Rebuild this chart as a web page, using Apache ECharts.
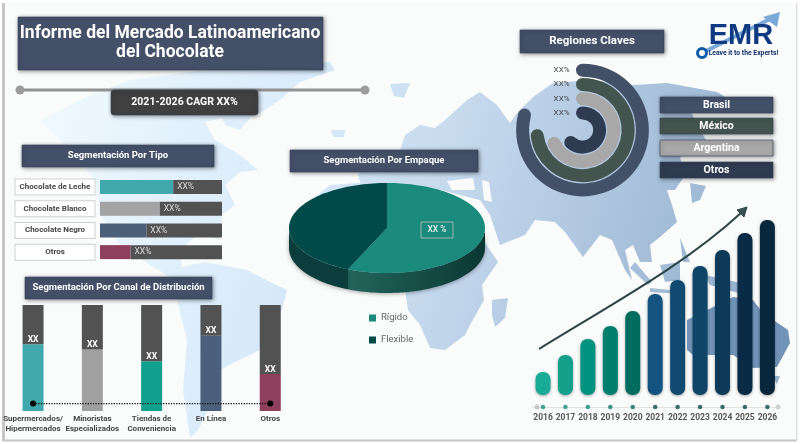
<!DOCTYPE html>
<html><head><meta charset="utf-8">
<style>html,body{margin:0;padding:0;background:#fff}#c{width:800px;height:444px}</style>
<script src="https://cdn.jsdelivr.net/npm/echarts@6/dist/echarts.min.js"></script>
</head><body><div id="c"></div>
<script>
const titleLines = ['Informe del Mercado Latinoamericano', 'del Chocolate'];
const cagrText = '2021-2026 CAGR XX%';
const tipoCats = ['Chocolate de Leche', 'Chocolate Blanco', 'Chocolate Negro', 'Otros'];
const tipoFill = [60, 49, 38, 25];
const tipoRest = [40, 51, 62, 75];
const canalCats = ['Supermercados/\nHipermercados', 'Minoristas\nEspecializados', 'Tiendas de\nConveniencia', 'En Línea', 'Otros'];
const canalFill = [63, 58, 47, 71, 35];
const canalRest = [37, 42, 53, 29, 65];
const canalDots = [7, 7, 7, 7, 7];
const pieNames = ['Rígido', 'Flexible'];
const pieValues = [56.5, 43.5];
const regionNames = ['Brasil', 'México', 'Argentina', 'Otros'];
const regionValues = [79, 73, 68, 62];
const regionLabels = ['XX%', 'XX%', 'XX%', 'XX%'];
const years = ['2016','2017','2018','2019','2020','2021','2022','2023','2024','2025','2026'];
const yearValues = [23, 40, 56, 69, 84, 101, 115, 129, 145, 162, 175];
const yearDots = [-12,-12,-12,-12,-12,-12,-12,-12,-12,-12,-12];

const tipoColors = ['#3fa9ad','#a3a3a3','#4d6079','#8e3f5c'];
const canalColors = ['#3fa9ad','#a0a0a0','#11a08e','#4c5f7c','#8e3f5c'];
const regionColors = ['#425068','#44544f','#a8a8a8','#2f3b51'];
const yearColors = ['#1aab97','#12a08b','#019380','#017f6e','#026d5e','#14527f','#114a70','#0f4568','#0e3a5a','#0a2b45','#08273c'];
const dotColors = ['#0d8d7a','#0d8d7a','#0d8d7a','#0b7a6a','#0b6a5c','#0a4a48','#0a4a48','#0a4a48','#0a4a48','#0a4a48','#0a4a48'];
const F = 'Roboto, sans-serif';

/* decorative background world map, not data */
const landShapes = [
 [[40,120],[90,95],[130,80],[190,72],[250,66],[330,62],[335,70],[300,82],[280,100],[262,112],[250,118],[240,130],[225,125],[222,118],[205,122],[215,140],[240,155],[258,170],[240,172],[225,185],[235,205],[222,215],[220,240],[200,232],[180,250],[182,270],[210,285],[175,280],[150,265],[120,245],[100,215],[95,180],[70,150]],
 [[170,270],[205,262],[247,270],[270,282],[287,290],[282,310],[260,350],[235,362],[220,370],[213,400],[198,430],[190,438],[183,390],[187,340],[177,300]],
 [[330,185],[400,180],[450,195],[480,235],[498,262],[482,285],[484,300],[470,325],[465,335],[445,350],[430,348],[420,325],[408,310],[405,290],[385,280],[340,280],[300,240],[305,205]],
 [[492,300],[508,298],[505,318],[495,327],[492,315]],
 [[358,175],[368,150],[400,150],[405,135],[420,125],[435,128],[445,120],[467,100],[480,92],[497,105],[510,123],[517,113],[533,97],[553,83],[590,80],[633,85],[667,83],[717,92],[730,100],[690,110],[700,130],[712,150],[700,150],[680,157],[685,175],[675,190],[667,190],[672,205],[677,222],[660,237],[650,245],[652,262],[640,262],[633,245],[625,250],[632,280],[625,270],[612,240],[600,235],[583,257],[565,232],[555,222],[535,220],[525,235],[500,245],[490,215],[480,200],[460,195],[440,190],[400,195],[365,200]],
 [[331,130],[345,130],[344,137],[333,137]],
 [[390,84],[410,83],[404,98],[394,96]],
 [[690,183],[706,186],[700,200],[692,203]],
 [[635,262],[652,282],[648,285],[630,268]],
 [[650,288],[680,291],[680,294],[650,292]],
 [[660,265],[680,262],[680,280],[665,282]],
 [[680,238],[690,262],[683,262]],
 [[705,275],[750,285],[745,295],[710,285]],
 [[772,376],[780,376],[777,384]]
];
const australiaShape = [[687,320],[707,310],[733,297],[753,300],[763,313],[788,330],[790,343],[777,367],[753,368],[733,355],[693,355],[687,350]];
const holeShapes = [
 [[447,181],[473,178],[475,190],[452,190]],
 [[482,180],[489,182],[492,202],[484,200]]
];
const landFill = {type:'linear',global:true,x:60,y:120,x2:720,y2:300,colorStops:[
 {offset:0,color:'#eef8fe'},{offset:.35,color:'#d8eafa'},{offset:.6,color:'#c3d7ec'},{offset:.85,color:'#a8c0da'},{offset:1,color:'#9ab4d2'}]};

function box(x,y,w,h,fill,text,font,color,extra){
  const out=[{type:'rect',z:1,shape:Object.assign({x,y,width:w,height:h},extra||{}),
    style:{fill,stroke:'#36445c',lineWidth:.6,shadowBlur:4,shadowColor:'rgba(0,0,0,.45)',shadowOffsetX:1,shadowOffsetY:1}}];
  if(text) out.push(txt(x+w/2,y+h/2,text,font,color||'#fff'));
  return out;
}
function txt(x,y,text,font,fill,align){
  return {type:'text',z:3,x,y,style:{text,font,fill,align:align||'center',verticalAlign:'middle'}};
}
const g=[];
g.push({type:'rect',z:-5,shape:{x:0,y:0,width:800,height:444},style:{fill:'#fff'}});
g.push({type:'rect',z:-5,shape:{x:4,y:3,width:792,height:437},style:{fill:'#fafcfc'}});
g.push({type:'rect',z:-4,shape:{x:2,y:3,width:3,height:438},style:{fill:'#c6c6c6'}});
g.push({type:'rect',z:-4,shape:{x:2,y:439.5,width:795,height:2},style:{fill:'#c6c6c6'}});
g.push({type:'rect',z:-4,shape:{x:796,y:3,width:1.5,height:438},style:{fill:'#e0e0e0'}});
landShapes.forEach(p=>g.push({type:'polygon',z:-3,shape:{points:p},style:{fill:landFill}}));
g.push({type:'polygon',z:-3,shape:{points:australiaShape},style:{fill:'#7293b8'}});
holeShapes.forEach(p=>g.push({type:'polygon',z:-2,shape:{points:p},style:{fill:'#fafcfc'}}));

g.push(...box(18,17,305,53,'#435068'));
g.push(txt(170,34,titleLines[0],'700 17.5px '+F,'#fff'));
g.push(txt(170,53,titleLines[1],'700 17.5px '+F,'#fff'));
g.push({type:'line',z:1,shape:{x1:20,y1:90,x2:365,y2:90},style:{stroke:'#929292',lineWidth:3}});
g.push({type:'circle',z:1,shape:{cx:20,cy:90,r:4.5},style:{fill:'#9c9c9c'}});
g.push({type:'circle',z:1,shape:{cx:365,cy:90,r:4.5},style:{fill:'#9c9c9c'}});
g.push(...box(111,90,147,25,'#404040',cagrText,'700 10.5px '+F,'#fff',{r:3}));
g.push(...box(22,145,192,22,'#435068','Segmentación Por Tipo','700 9.5px '+F));
g.push(...box(290,150,188,22,'#435068','Segmentación Por Empaque','700 9.5px '+F));
g.push(...box(25,277,187,22,'#435068','Segmentación Por Canal de Distribución','700 9.5px '+F));
g.push(...box(520,30,144,23,'#435068','Regiones Claves','700 11.5px '+F));
const legendY=[97,118,140,162];
regionNames.forEach((n,i)=>g.push(...box(660,legendY[i],113,16,regionColors[i],n,'700 10.5px '+F)));

/* growth arrow */
g.push({type:'bezierCurve',z:10,shape:{x1:539,y1:349,cpx1:610,cpy1:305,cpx2:685,cpy2:265,x2:742,y2:212},style:{stroke:'#2c4446',lineWidth:2,fill:'none'}});
g.push({type:'polygon',z:10,shape:{points:[[747,207],[737,210],[744,217]]},style:{fill:'#3a5052',stroke:'#2c4446',lineWidth:1}});
g.push({type:'circle',z:1,shape:{cx:537,cy:407,r:2.5},style:{fill:'#c8c8c8'}});
g.push({type:'circle',z:1,shape:{cx:778,cy:407,r:2.5},style:{fill:'#d0d0d0'}});

/* logo */
g.push({type:'line',z:1,shape:{x1:702,y1:53,x2:772,y2:18},style:{stroke:'#7ba8d6',lineWidth:4}});
g.push({type:'polygon',z:1,shape:{points:[[780,12],[763,17],[777,27]]},style:{fill:'#7ba8d6'}});
g.push(txt(741,36,'EMR','700 29px "Liberation Sans", sans-serif','#0f3a82'));
g.push({type:'circle',z:3,shape:{cx:702,cy:53,r:4.5},style:{fill:'#fff',stroke:'#0c5aa8',lineWidth:3}});
g.push(txt(743.5,53,'Leave it to the Experts!','700 6.8px '+F,'#0f2f66'));

function ellipsePts(t1,t2,cx,cy,rx,ry){
  const pts=[];const n=Math.max(2,Math.ceil((t2-t1)/2));
  for(let i=0;i<=n;i++){const t=(t1+(t2-t1)*i/n)*Math.PI/180;pts.push([cx+rx*Math.sin(t),cy-ry*Math.cos(t)]);}
  return pts;
}
const total=pieValues.reduce((a,b)=>a+b,0);
function pieRender(i,topColor,sideFill){
  return function(){
    const cx=387,cy=228,rx=98,ry=45,d=20;
    const before=pieValues.slice(0,i).reduce((a,b)=>a+b,0);
    const t1=before/total*360,t2=(before+pieValues[i])/total*360;
    const kids=[];
    const s1=Math.max(t1,90),s2=Math.min(t2,270);
    if(s2>s1){
      const rim=ellipsePts(s1,s2,cx,cy,rx,ry);
      const low=rim.map(p=>[p[0],p[1]+d]).reverse();
      kids.push({type:'polygon',shape:{points:rim.concat(low)},style:{fill:sideFill,shadowBlur:4,shadowColor:'rgba(0,0,0,.35)',shadowOffsetY:1}});
    }
    kids.push({type:'polygon',shape:{points:[[cx,cy]].concat(ellipsePts(t1,t2,cx,cy,rx,ry))},style:{fill:topColor}});
    if(i===0){
      kids.push({type:'rect',shape:{x:421,y:222,width:32,height:16},style:{fill:'none',stroke:'#9bb8b2',lineWidth:1}});
      kids.push({type:'text',x:437,y:230,style:{text:'XX %',font:'500 8.5px '+F,fill:'#e8f2f0',align:'center',verticalAlign:'middle'}});
    }
    return {type:'group',children:kids};
  };
}
const rigidoSide={type:'linear',global:true,x:348,y:0,x2:485,y2:0,colorStops:[{offset:0,color:'#22665c'},{offset:1,color:'#0b3733'}]};

const option={
  animation:false,
  textStyle:{fontFamily:F},
  legend:{data:pieNames,orient:'vertical',left:364,top:308,itemWidth:7,itemHeight:7,itemGap:12,icon:'rect',
    textStyle:{color:'#666',fontSize:9.5,fontFamily:F},selectedMode:false},
  graphic:{elements:g},
  grid:[
    {left:100,top:176,width:122,height:87},
    {left:3.4,top:305,width:296.5,height:106},
    {left:531.8,top:195,width:246.8,height:212}
  ],
  polar:{center:[582.5,130],radius:[10,67]},
  angleAxis:{min:0,max:100,startAngle:90,show:false},
  radiusAxis:{type:'category',data:regionLabels,inverse:true,axisLine:{show:false},axisTick:{show:false},splitLine:{show:false},
    axisLabel:{interval:0,color:'#444',fontSize:8,margin:13,fontFamily:F}},
  xAxis:[
    {gridIndex:0,type:'value',min:0,max:100,show:false},
    {gridIndex:1,type:'category',data:canalCats,axisLine:{show:false},axisTick:{show:false},
      axisLabel:{interval:0,color:'#444',fontSize:8,fontWeight:700,margin:3,lineHeight:10,fontFamily:F}},
    {gridIndex:2,type:'category',data:years,axisLine:{onZero:false,lineStyle:{color:'#e2e2e2',width:1}},axisTick:{show:false},
      axisLabel:{interval:0,color:'#555',fontSize:8.5,fontWeight:700,margin:6,fontFamily:F}}
  ],
  yAxis:[
    {gridIndex:0,type:'category',data:tipoCats,inverse:true,axisLine:{show:false},axisTick:{show:false},
      axisLabel:{interval:0,color:'#444',fontSize:8,fontWeight:700,margin:45,align:'center',width:79,height:15,lineHeight:15,
        backgroundColor:'#fff',borderColor:'#cfcfcf',borderWidth:1,fontFamily:F}},
    {gridIndex:1,type:'value',min:0,max:100,show:false},
    {gridIndex:2,type:'value',min:-12,max:200,show:false}
  ],
  series:[
    {type:'bar',xAxisIndex:0,yAxisIndex:0,stack:'t',barWidth:14,silent:true,data:tipoFill.map((v,i)=>({value:v,itemStyle:{color:tipoColors[i]}}))},
    {type:'bar',xAxisIndex:0,yAxisIndex:0,stack:'t',barWidth:14,silent:true,itemStyle:{color:'#525252'},data:tipoRest,
      label:{show:true,position:'insideLeft',distance:4,formatter:'XX%',color:'#ddd',fontSize:8.5,fontFamily:F}},
    {type:'bar',xAxisIndex:1,yAxisIndex:1,stack:'c',barWidth:21,silent:true,data:canalFill.map((v,i)=>({value:v,itemStyle:{color:canalColors[i]}}))},
    {type:'bar',xAxisIndex:1,yAxisIndex:1,stack:'c',barWidth:21,silent:true,itemStyle:{color:'#525252'},data:canalRest,
      label:{show:true,position:'insideBottom',distance:0,formatter:'XX',color:'#fff',fontSize:8.5,fontWeight:700,fontFamily:F}},
    {type:'line',xAxisIndex:1,yAxisIndex:1,data:canalDots,z:5,silent:true,showSymbol:true,showAllSymbol:true,
      symbol:(v,p)=>(p.dataIndex===0||p.dataIndex===canalDots.length-1)?'circle':'none',symbolSize:6,
      itemStyle:{color:'#000'},lineStyle:{color:'#111',width:1.3,type:'dotted'}},
    {type:'bar',xAxisIndex:2,yAxisIndex:2,barWidth:15,silent:true,
      data:yearValues.map((v,i)=>({value:v,itemStyle:{color:yearColors[i],borderRadius:7,shadowBlur:3,shadowColor:'rgba(0,0,0,.35)',shadowOffsetY:1}}))},
    {type:'scatter',xAxisIndex:2,yAxisIndex:2,symbolSize:4.5,silent:true,data:yearDots.map((v,i)=>({value:v,itemStyle:{color:dotColors[i]}}))},
    {type:'bar',coordinateSystem:'polar',barWidth:13,roundCap:true,silent:true,
      data:regionValues.map((v,i)=>({value:v,itemStyle:{color:regionColors[i]}}))},
    {type:'custom',name:pieNames[0],coordinateSystem:'none',silent:true,data:[pieValues[0]],itemStyle:{color:'#1a8a7c'},renderItem:pieRender(0,'#1a8a7c',rigidoSide)},
    {type:'custom',name:pieNames[1],coordinateSystem:'none',silent:true,data:[pieValues[1]],itemStyle:{color:'#024a49'},renderItem:pieRender(1,'#024a49','#0a3d3c')}
  ]
};
echarts.init(document.getElementById('c'),null,{renderer:'canvas'}).setOption(option);
</script></body></html>
